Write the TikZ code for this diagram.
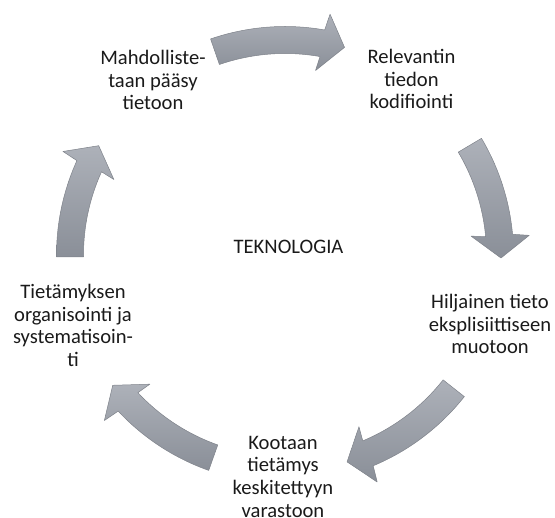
\documentclass[tikz,border=0pt]{standalone}
\usepackage{fontspec}
\setmainfont{Carlito}
\definecolor{arrowtop}{HTML}{ADB1B9}
\definecolor{arrowbot}{HTML}{8A8F98}
\definecolor{arrowedge}{HTML}{7E828A}
\definecolor{txt}{HTML}{1A1A1A}
\begin{document}
\begin{tikzpicture}[x=1pt,y=1pt,
  lbl/.style={font=\fontsize{20.6}{22.7}\selectfont, align=center, inner sep=0pt, text=txt},
  cyclearrow/.style={top color=arrowtop, bottom color=arrowbot, draw=arrowedge, line width=0.5pt, line join=round}]
\useasboundingbox (0,0) rectangle (555,-518);
\coordinate (C) at (285,-255);
\begin{scope}[shift={(C)}]
\foreach \tail/\tip in {109/74, 30.7/-0.8, -38.3/-73.3, -109.5/-142.9, 180.5/149.6}{
  \pgfmathsetmacro\hb{\tip+6}
  \path[cyclearrow] (\tail:228.5) arc[start angle=\tail, end angle=\hb, radius=228.5pt]
    -- (\hb-0.6:245) -- (\tip:216) -- (\hb+0.6:187) -- (\hb:201.5)
    arc[start angle=\hb, end angle=\tail, radius=201.5pt] -- cycle;
}
\end{scope}
\node[lbl] (a) at (153,-80) {Mahdolliste-\\taan pääsy\\tietoon};
\node[lbl] (b) at (411.5,-79) {Relevantin\\tiedon\\kodifiointi};
\node[lbl, anchor=base] (t) at (288.5,-253.3) {TEKNOLOGIA};
\node[lbl] (c) at (490,-324) {Hiljainen tieto\\eksplisiittiseen\\muotoon};
\node[lbl] (d) at (73,-325.5) {Tietämyksen\\organisointi ja\\systematisoin-\\ti};
\node[lbl] (e) at (283,-476.7) {Kootaan\\tietämys\\keskitettyyn\\varastoon};
\end{tikzpicture}
\end{document}
